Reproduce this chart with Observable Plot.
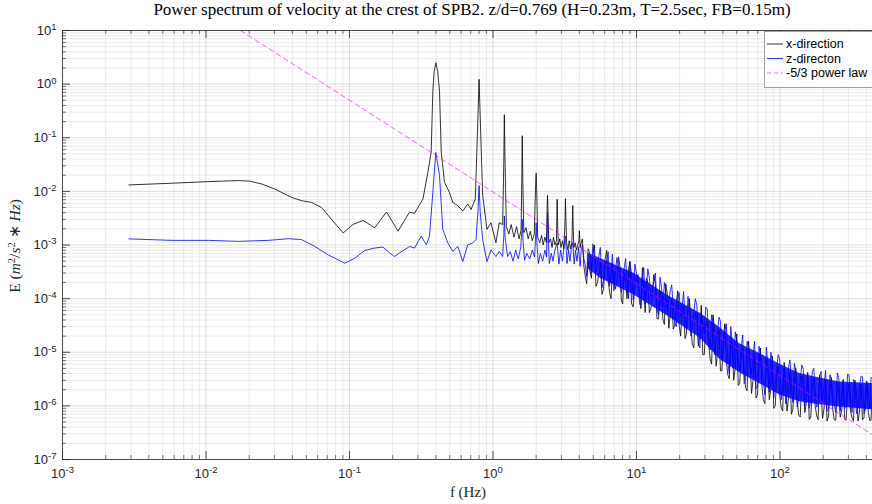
<!DOCTYPE html>
<html><head><meta charset="utf-8">
<script src="https://cdn.jsdelivr.net/npm/d3@7"></script>
<script src="https://cdn.jsdelivr.net/npm/@observablehq/plot@0.6"></script>
<style>
body{margin:0;background:#fff;}
#wrap{position:relative;width:872px;height:504px;overflow:hidden;background:#fff;}
#title{position:absolute;left:0;width:944px;top:0px;text-align:center;font-family:"Liberation Serif",serif;font-size:17px;color:#000;white-space:nowrap;z-index:2;}
#chart{position:absolute;left:0;top:0;}
</style></head><body>
<div id="wrap"><div id="chart"></div><div id="title"></div></div>
<script>
// ---------- data ----------
const titleText = "Power spectrum of velocity at the crest of SPB2. z/d=0.769 (H=0.23m, T=2.5sec, FB=0.15m)";
const xTicks = [1e-3, 1e-2, 1e-1, 1, 10, 100];
const xTickLabels = ["10^-3", "10^-2", "10^-1", "10^0", "10^1", "10^2"];
const yTicks = [1e-7, 1e-6, 1e-5, 1e-4, 1e-3, 1e-2, 1e-1, 1, 10];
const yTickLabels = ["10^-7", "10^-6", "10^-5", "10^-4", "10^-3", "10^-2", "10^-1", "10^0", "10^1"];
const legendLabels = ["x-direction", "z-directon", "-5/3 power law"];

// x-direction: smooth part + wave harmonics  [f (Hz), E]
const xDirMain = [[0.0029,1.32e-2],[0.0058,1.42e-2],[0.0104,1.52e-2],[0.0169,1.59e-2],[0.0202,1.55e-2],[0.0245,1.37e-2],[0.0301,1.11e-2],[0.0396,7.7e-3],[0.0464,6.7e-3],[0.0545,6.2e-3],[0.0639,5.0e-3],[0.075,3.0e-3],[0.0904,1.68e-3],[0.106,2.42e-3],[0.1245,2.87e-3],[0.15,2.09e-3],[0.181,4.14e-3],[0.218,1.81e-3],[0.262,4.1e-3],[0.284,3.9e-3],[0.325,7.2e-3],[0.352,2.28e-2],[0.371,5.44e-2],[0.381,0.74],[0.389,1.7],[0.4,2.5],[0.412,1.7],[0.424,0.74],[0.436,5.44e-2],[0.459,1.48e-2],[0.497,9.6e-3],[0.525,6.2e-3],[0.569,5.4e-3],[0.616,4.3e-3],[0.667,5.8e-3],[0.704,4.6e-3],[0.753,7.2e-3],[0.776,8.4e-2],[0.8,1.23],[0.825,8.4e-2],[0.848,8.3e-3],[0.908,1.95e-3],[0.968,2.6e-3],[1.049,1.1e-3],[1.106,2.6e-3],[1.168,2.4e-3],[1.19,3.5e-2],[1.2,0.268],[1.215,3.0e-2],[1.24,2.2e-3],[1.29,1.6e-3],[1.34,2.4e-3],[1.4,1.4e-3],[1.46,2.2e-3],[1.52,1.3e-3],[1.57,1.9e-3],[1.59,2.0e-2],[1.6,0.109],[1.615,1.5e-2],[1.64,1.7e-3],[1.7,2.1e-3],[1.76,1.3e-3],[1.82,1.8e-3],[1.88,1.2e-3],[1.94,1.6e-3],[1.98,1.2e-2],[2.0,2.19e-2],[2.02,9.0e-3],[2.05,1.4e-3],[2.12,1.1e-3],[2.18,1.5e-3],[2.24,1.0e-3],[2.3,1.4e-3],[2.36,1.1e-3],[2.385,5.0e-3],[2.4,8.4e-3],[2.42,4.0e-3],[2.45,1.1e-3],[2.52,1.3e-3],[2.58,9.0e-4],[2.64,1.4e-3],[2.7,1.0e-3],[2.77,1.2e-3],[2.79,4.0e-3],[2.8,7.1e-3],[2.82,3.0e-3],[2.85,1.0e-3],[2.92,1.3e-3],[2.98,9.0e-4],[3.05,1.2e-3],[3.12,8.5e-4],[3.18,3.0e-3],[3.2,7.3e-3],[3.22,3.5e-3],[3.26,1.1e-3],[3.33,8.0e-4],[3.4,1.2e-3],[3.47,8.5e-4],[3.55,1.1e-3],[3.58,3.0e-3],[3.6,5.45e-3],[3.62,2.5e-3],[3.66,9.0e-4],[3.74,1.1e-3],[3.82,8.0e-4],[3.9,1.0e-3],[3.97,1.2e-3],[4.0,1.84e-3],[4.05,9.0e-4],[4.12,1.1e-3]];

// z-direction: smooth part + wave harmonics  [f (Hz), E]
const zDirMain = [[0.0029,1.3e-3],[0.0058,1.22e-3],[0.0104,1.22e-3],[0.0169,1.17e-3],[0.0272,1.22e-3],[0.0375,1.31e-3],[0.0464,1.26e-3],[0.0574,9.4e-4],[0.071,6.56e-4],[0.0929,4.57e-4],[0.109,5.69e-4],[0.128,7.94e-4],[0.15,8.77e-4],[0.171,9.16e-4],[0.191,7.06e-4],[0.206,6.11e-4],[0.229,7.43e-4],[0.263,9.4e-4],[0.284,8.77e-4],[0.316,1.46e-3],[0.343,1.01e-3],[0.361,1.46e-3],[0.381,9.6e-3],[0.393,3.0e-2],[0.4,5.28e-2],[0.41,3.5e-2],[0.424,1.98e-2],[0.447,1.95e-3],[0.485,1.09e-3],[0.525,7.6e-4],[0.569,9.4e-4],[0.616,4.9e-4],[0.667,1.01e-3],[0.723,1.09e-3],[0.762,1.26e-3],[0.785,4.0e-3],[0.8,1.28e-2],[0.815,4.0e-3],[0.848,1.26e-3],[0.908,4.9e-4],[0.968,8.1e-4],[1.049,6.1e-4],[1.106,7.6e-4],[1.168,6.1e-4],[1.19,1.5e-3],[1.2,3.48e-3],[1.215,1.4e-3],[1.265,6.1e-4],[1.32,7.5e-4],[1.38,5.0e-4],[1.44,8.0e-4],[1.5,5.5e-4],[1.56,9.0e-4],[1.59,1.8e-3],[1.6,3.0e-3],[1.62,1.2e-3],[1.66,5.2e-4],[1.72,7.0e-4],[1.8,5.5e-4],[1.88,8.0e-4],[1.95,6.0e-4],[1.99,1.8e-3],[2.0,2.6e-3],[2.02,1.2e-3],[2.07,4.5e-4],[2.14,7.0e-4],[2.22,5.0e-4],[2.3,8.0e-4],[2.36,6.0e-4],[2.39,2.5e-3],[2.4,4.0e-3],[2.42,1.5e-3],[2.47,4.5e-4],[2.55,7.0e-4],[2.62,5.0e-4],[2.7,8.0e-4],[2.8,1.09e-3],[2.88,4.4e-4],[2.96,8.0e-4],[3.05,5.0e-4],[3.12,9.0e-4],[3.2,1.46e-3],[3.28,4.5e-4],[3.36,8.0e-4],[3.44,5.0e-4],[3.52,9.0e-4],[3.6,1.1e-3],[3.68,4.4e-4],[3.76,8.0e-4],[3.85,5.0e-4],[3.95,9.0e-4],[4.05,4.0e-4],[4.12,8.0e-4]];

// turbulent (noisy) range, grid A: frequencies and the two spectra
const noiseF = [4.2,4.4,4.6,4.85,5.1,5.35,5.6,5.9,6.2,6.5,6.8,7.1,7.5,7.85,8.2,8.6,9.0,9.5,10,10.5,11,11.5,12,12.6,13.2,13.9,14.6,15.3,16,16.8,17.6,18.5,19.4,20.3,21.3,22.3,23.4,24.5,25.7,27,28.3,29.7,31.1,32.6,34.2,35.9,37.6,39.4,41.3,43.3,45.4,47.6,50,52.4,55,57.6,60.4,63.4,66.5,69.7,73.1,76.6,80.4,84.3,88.4,92.7,97.2,102,107,112,117.5,123,129,135,142,149,156,164,172,180,189,198,208,218,228,239,251,263,276,289,303,318,333,350,367,385,403,423,440];
const noiseZ = [1.0e-3,4.2e-4,8.5e-4,3.0e-4,6.0e-4,4.0e-4,9.0e-4,2.2e-4,5.0e-4,1.7e-4,6.8e-4,2.6e-4,4.0e-4,1.3e-4,3.6e-4,2.0e-4,4.8e-4,9.5e-5,3.0e-4,1.3e-4,2.6e-4,8e-5,3.6e-4,1.1e-4,2.0e-4,6.5e-5,2.5e-4,7e-5,1.3e-4,9e-5,1.8e-4,3.5e-5,1.0e-4,4.5e-5,1.35e-4,2.6e-5,7.5e-5,3.2e-5,1.0e-4,1.6e-5,5.5e-5,2.2e-5,6.5e-5,1.1e-5,3.6e-5,1.6e-5,4.5e-5,7e-6,2.6e-5,6.5e-6,3.0e-5,5.0e-6,1.6e-5,4.5e-6,2.1e-5,3.2e-6,1.2e-5,4.0e-6,1.6e-5,2.3e-6,9e-6,3.0e-6,1.25e-5,1.8e-6,7e-6,2.6e-6,9e-6,1.3e-6,5.5e-6,1.6e-6,7.2e-6,1.15e-6,4.5e-6,1.4e-6,5.8e-6,1.0e-6,4.0e-6,1.3e-6,5.0e-6,9.5e-7,3.5e-6,1.2e-6,4.6e-6,8.5e-7,3.2e-6,1.1e-6,4.1e-6,8e-7,3.0e-6,1.0e-6,3.8e-6,7.5e-7,2.8e-6,9.5e-7,3.6e-6,7.2e-7,2.7e-6,9e-7,3.3e-6];
const noiseX = [1.3e-3,2.6e-4,5e-4,2.4e-4,1.0e-3,2.0e-4,4.5e-4,1.5e-4,8.0e-4,1.3e-4,3.5e-4,1.5e-4,6.0e-4,9e-5,3.0e-4,1.0e-4,5.0e-4,7.0e-5,2.4e-4,8.5e-5,3.8e-4,5.5e-5,2.0e-4,6.5e-5,2.8e-4,4.2e-5,1.4e-4,4.0e-5,1.9e-4,2.8e-5,1.0e-4,3.2e-5,1.4e-4,2.0e-5,7e-5,2.2e-5,1.0e-4,1.4e-5,5.5e-5,1.3e-5,7.5e-5,9e-6,3.8e-5,7.5e-6,5.0e-5,5.5e-6,2.6e-5,4.5e-6,3.4e-5,3.8e-6,1.7e-5,3.0e-6,2.2e-5,2.6e-6,1.2e-5,2.2e-6,1.6e-5,1.7e-6,9e-6,1.6e-6,1.2e-5,1.3e-6,7e-6,1.3e-6,8.5e-6,1.0e-6,5.5e-6,9.5e-7,6.5e-6,8e-7,4.5e-6,8.5e-7,5e-6,6.8e-7,3.6e-6,7.5e-7,4.2e-6,6.2e-7,3.2e-6,6.8e-7,3.8e-6,5.8e-7,2.9e-6,6.5e-7,3.4e-6,5.5e-7,2.7e-6,6.2e-7,3.1e-6,5.4e-7,2.6e-6,6e-7,3.0e-6,5.2e-7,2.5e-6,6e-7,2.9e-6,5.3e-7,2.6e-6];

// turbulent range, grid B (samples between those of grid A)
const noiseF2 = [4.3,4.5,4.72,4.97,5.22,5.47,5.75,6.05,6.35,6.65,6.95,7.3,7.67,8.02,8.4,8.8,9.25,9.75,10.25,10.75,11.25,11.75,12.3,12.9,13.55,14.25,14.95,15.65,16.4,17.2,18.05,18.95,19.85,20.8,21.8,22.85,23.95,25.1,26.35,27.65,29,30.4,31.85,33.4,35.05,36.75,38.5,40.35,42.3,44.35,46.5,48.8,51.2,53.7,56.3,59,61.9,64.9,68.1,71.4,74.8,78.5,82.3,86.3,90.5,94.9,99.6,104.5,109.5,114.7,120.2,126,132,138.5,145.5,152.5,160,168,176,184.5,193.5,203,213,223,233.5,245,257,269.5,282.5,296,310.5,325.5,341.5,358.5,376,394,413,431.5];
const noiseZ2 = [5.5e-4,2.6e-4,7e-4,1.05e-3,3.2e-4,6.2e-4,1.6e-4,4.2e-4,7.5e-4,3.0e-4,1.4e-4,5.8e-4,2.6e-4,2.0e-4,5.6e-4,1.0e-4,2.8e-4,4.4e-4,1.8e-4,7.5e-5,3.8e-4,1.6e-4,2.4e-4,1.4e-4,3.0e-4,5.0e-5,1.6e-4,2.0e-4,5.5e-5,1.4e-4,7e-5,3.0e-5,1.3e-4,7e-5,4.0e-5,1.1e-4,2.0e-5,5.5e-5,7.5e-5,1.2e-5,3.5e-5,7.0e-5,2.0e-5,5.0e-5,9e-6,2.6e-5,3.8e-5,1.2e-5,3.4e-5,4.0e-6,1.5e-5,2.4e-5,7e-6,1.2e-5,2.6e-6,1.6e-5,6e-6,8e-6,2.1e-6,1.3e-5,5e-6,1.6e-6,6e-6,1.0e-5,1.4e-6,4.5e-6,7.5e-6,2.2e-6,1.1e-6,5.2e-6,2.4e-6,6.2e-6,9.5e-7,3.0e-6,4.8e-6,1.5e-6,9e-7,4.4e-6,2.0e-6,1.1e-6,4.4e-6,2.4e-6,8e-7,3.8e-6,1.5e-6,7.5e-7,3.4e-6,2.0e-6,9e-7,3.9e-6,1.3e-6,3.1e-6,7.2e-7,2.2e-6,3.5e-6,8.5e-7,2.0e-6,3.4e-6];
const noiseX2 = [4.0e-4,1.9e-4,3.5e-4,6.5e-4,1.7e-4,3.0e-4,1.2e-4,5.5e-4,2.2e-4,1.0e-4,3.2e-4,2.0e-4,4.0e-4,8e-5,2.0e-4,3.4e-4,8e-5,1.8e-4,2.8e-4,6.5e-5,1.5e-4,2.4e-4,5.5e-5,1.2e-4,1.9e-4,4.2e-5,1.0e-4,3.3e-5,1.2e-4,5e-5,2.7e-5,8.5e-5,3.2e-5,5.5e-5,1.8e-5,6.5e-5,3.0e-5,1.2e-5,4.5e-5,2.0e-5,9e-6,3.5e-5,1.5e-5,6e-6,2.4e-5,1.0e-5,4.5e-6,1.8e-5,7e-6,3.2e-6,1.2e-5,5e-6,2.4e-6,9e-6,4e-6,1.9e-6,7e-6,3e-6,1.4e-6,5.5e-6,2.4e-6,1.1e-6,4.5e-6,2.0e-6,9e-7,3.5e-6,1.6e-6,8e-7,3.0e-6,1.4e-6,7e-7,2.6e-6,1.2e-6,6.2e-7,2.4e-6,1.1e-6,5.6e-7,2.1e-6,1.0e-6,5.5e-7,2.0e-6,9e-7,5.2e-7,1.9e-6,8.5e-7,5.4e-7,1.8e-6,8e-7,5.6e-7,1.7e-6,8e-7,5.2e-7,1.8e-6,8e-7,5.5e-7,1.6e-6,7.5e-7,5.4e-7];

// dense core of the z-direction band (where the trace fills solid)
const bandF   = [4.6, 5.6, 9.5, 16.4, 28, 38, 52, 72, 100, 137, 189, 260, 440];
const bandZHi = [7.0e-4, 5.6e-4, 3.0e-4, 1.15e-4, 5.3e-5, 2.9e-5, 1.45e-5, 9.5e-6, 6e-6, 4e-6, 3.3e-6, 2.8e-6, 2.6e-6];
const bandZLo = [3.6e-4, 2.4e-4, 1.2e-4, 4.8e-5, 1.8e-5, 7.5e-6, 4.2e-6, 2.6e-6, 1.6e-6, 1.2e-6, 1.05e-6, 9.5e-7, 8.5e-7];

// -5/3 power-law reference line, endpoints as seen in the picture
const powerLaw = [[0.0174, 10], [441, 2.9e-7]];

// ---------- build ----------
document.getElementById("title").textContent = titleText;
const toRows = pairs => pairs.map(([f, E]) => ({f, E}));
const gridRows = (F, E) => F.slice(0, Math.min(F.length, E.length)).map((f, i) => ({f, E: E[i]}));
const byF = (a, b) => a.f - b.f;
const xRows = toRows(xDirMain).concat(gridRows(noiseF, noiseX), gridRows(noiseF2, noiseX2)).sort(byF);
const zRows = toRows(zDirMain).concat(gridRows(noiseF, noiseZ), gridRows(noiseF2, noiseZ2)).sort(byF);
const bandRows = bandF.map((f, i) => ({f, hi: bandZHi[i], lo: bandZLo[i]}));
const plRows = toRows(powerLaw);

const W = 872, H = 504, mL = 62, mR = 0, mT = 30, mB = 45;
const plotW = W - mL - mR, plotH = H - mT - mB;
const xMax = Math.pow(10, 2.645);

const minorOf = (majors, max) => {
  const out = [];
  for (const d of majors) for (let k = 2; k <= 9; k++) { const v = k * d; if (v < max * 0.999) out.push(v); }
  return out;
};
const xMinor = minorOf(xTicks, xMax);
const yMinor = minorOf(yTicks, 10);

const axisInk = "#262626";
const chart = Plot.plot({
  width: W, height: H,
  marginLeft: mL, marginRight: mR, marginTop: mT, marginBottom: mB,
  x: {type: "log", domain: [1e-3, xMax]},
  y: {type: "log", domain: [1e-7, 10]},
  style: {background: "white", fontFamily: "'Liberation Sans', Arial, sans-serif", fontSize: "13px", color: "#262626"},
  marks: [
    // grid
    Plot.ruleX(xMinor, {x: d => d, stroke: "#e6e6e6", strokeWidth: 0.8}),
    Plot.ruleY(yMinor, {y: d => d, stroke: "#e6e6e6", strokeWidth: 0.8}),
    Plot.ruleX(xTicks, {x: d => d, stroke: "#d6d6d6", strokeWidth: 0.8}),
    Plot.ruleY(yTicks, {y: d => d, stroke: "#d6d6d6", strokeWidth: 0.8}),
    // data
    Plot.line(xRows, {x: "f", y: "E", stroke: "#000000", strokeWidth: 0.8, clip: true}),
    Plot.areaY(bandRows, {x: "f", y1: "lo", y2: "hi", fill: "#0000ff", fillOpacity: 0.85, clip: true}),
    Plot.line(zRows, {x: "f", y: "E", stroke: "#0000ff", strokeWidth: 0.8, clip: true}),
    Plot.line(plRows, {x: "f", y: "E", stroke: "#ff00ff", strokeOpacity: 0.8, strokeWidth: 0.8, strokeDasharray: "5,3.5", clip: true}),
    // box lines
    Plot.ruleY([1e-7], {stroke: axisInk, strokeWidth: 0.8}),
    Plot.ruleY([10], {stroke: axisInk, strokeWidth: 0.8}),
    Plot.ruleX([1e-3], {stroke: axisInk, strokeWidth: 0.8}),
    // inward tick marks
    Plot.ruleX(xTicks, {x: d => d, stroke: axisInk, strokeWidth: 0.8, insetTop: plotH - 8}),
    Plot.ruleX(xMinor, {x: d => d, stroke: axisInk, strokeWidth: 0.6, insetTop: plotH - 4}),
    Plot.ruleX(xTicks, {x: d => d, stroke: axisInk, strokeWidth: 0.8, insetBottom: plotH - 8}),
    Plot.ruleX(xMinor, {x: d => d, stroke: axisInk, strokeWidth: 0.6, insetBottom: plotH - 4}),
    Plot.ruleY(yTicks, {y: d => d, stroke: axisInk, strokeWidth: 0.8, insetRight: plotW - 8}),
    Plot.ruleY(yMinor, {y: d => d, stroke: axisInk, strokeWidth: 0.6, insetRight: plotW - 4}),
    // tick labels
    Plot.axisX({ticks: xTicks, tickSize: 0, tickPadding: 9, label: null, tickFormat: d => xTickLabels[xTicks.indexOf(d)], fontSize: 13}),
    Plot.axisY({ticks: yTicks, tickSize: 0, tickPadding: 6, label: null, tickFormat: d => yTickLabels[yTicks.indexOf(d)], fontSize: 13})
  ]
});
document.getElementById("chart").appendChild(chart);

const svg = d3.select(chart);
// superscript exponents on tick labels
svg.selectAll('g[aria-label="x-axis tick label"] text, g[aria-label="y-axis tick label"] text').each(function () {
  const t = this.textContent;
  if (!t.includes("^")) return;
  const [b, e] = t.split("^");
  const s = d3.select(this);
  s.text(null);
  s.append("tspan").text(b);
  s.append("tspan").attr("dy", "-0.5em").attr("font-size", "9.5px").text(e);
});

// axis titles
const serif = "'Liberation Serif', 'Times New Roman', serif";
svg.append("text").attr("x", 468).attr("y", 497).attr("text-anchor", "middle")
  .attr("font-family", serif).attr("font-size", 15).attr("fill", "#262626").text("f (Hz)");
const yl = svg.append("text").attr("transform", "translate(20,246) rotate(-90)").attr("text-anchor", "middle")
  .attr("font-family", serif).attr("font-size", 15.5).attr("fill", "#262626");
yl.append("tspan").text("E ");
yl.append("tspan").text("(");
yl.append("tspan").attr("font-style", "italic").text("m");
yl.append("tspan").attr("dy", -5).attr("font-size", 10.5).text("2");
yl.append("tspan").attr("dy", 5).text("/");
yl.append("tspan").attr("font-style", "italic").text("s");
yl.append("tspan").attr("dy", -5).attr("font-size", 10.5).text("2");
yl.append("tspan").attr("dy", 5).text(" \u2217 ");
yl.append("tspan").attr("font-style", "italic").text("Hz");
yl.append("tspan").text(")");

// legend
const lg = svg.append("g");
lg.append("rect").attr("x", 764.5).attr("y", 31.5).attr("width", 140).attr("height", 56)
  .attr("fill", "#fff").attr("stroke", "#8c8c8c").attr("stroke-width", 0.8);
const legendStyles = [
  {stroke: "#000000", dash: null},
  {stroke: "#0000ff", dash: null},
  {stroke: "#ff00ff", dash: "4,3"}
];
legendLabels.forEach((name, i) => {
  const y = 44 + i * 14.5;
  const ln = lg.append("line").attr("x1", 767).attr("x2", 783).attr("y1", y).attr("y2", y)
    .attr("stroke", legendStyles[i].stroke).attr("stroke-width", 0.8);
  if (legendStyles[i].dash) ln.attr("stroke-dasharray", legendStyles[i].dash).attr("stroke-opacity", 0.8);
  lg.append("text").attr("x", 786).attr("y", y).attr("dy", "0.35em").attr("text-anchor", "start")
    .attr("font-family", "'Liberation Sans', Arial, sans-serif").attr("font-size", 12.5).attr("fill", "#000").text(name);
});
</script>
</body></html>
